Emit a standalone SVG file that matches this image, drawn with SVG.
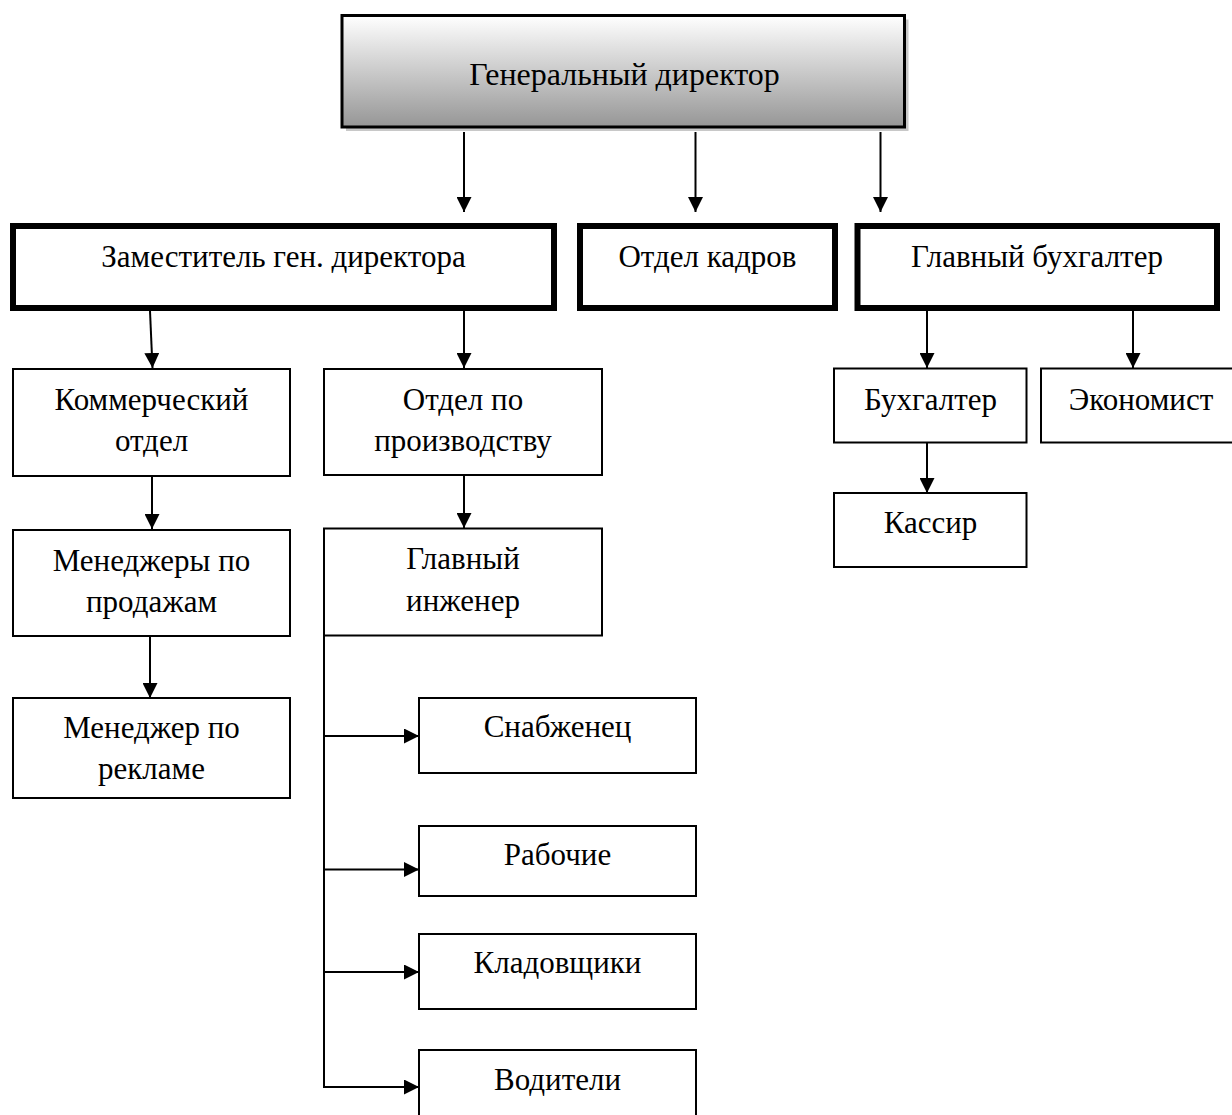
<svg xmlns="http://www.w3.org/2000/svg" width="1232" height="1115" viewBox="0 0 1232 1115">
<style>
text{font-family:"Liberation Serif","Times New Roman",serif;font-size:31px;fill:#000;text-anchor:middle}
.thin{fill:#fff;stroke:#000;stroke-width:2}
.thick{fill:#fff;stroke:#000;stroke-width:6}
.conn{fill:none;stroke:#000;stroke-width:2}
</style>
<defs>
<linearGradient id="g" x1="0" y1="0" x2="0" y2="1">
<stop offset="0" stop-color="#ffffff"/>
<stop offset="1" stop-color="#969696"/>
</linearGradient>
<marker id="ah" markerUnits="userSpaceOnUse" markerWidth="15" markerHeight="15" refX="15" refY="7.5" orient="auto">
<path d="M0,0 L15,7.5 L0,15 z" fill="#000"/>
</marker>
</defs>
<rect width="1232" height="1115" fill="#fff"/>
<g id="connectors" class="conn">
<line x1="464" y1="132" x2="464" y2="212" marker-end="url(#ah)"/>
<line x1="695.5" y1="132" x2="695.5" y2="212" marker-end="url(#ah)"/>
<line x1="880.5" y1="132" x2="880.5" y2="212" marker-end="url(#ah)"/>
<line x1="150" y1="311" x2="152.5" y2="368" marker-end="url(#ah)"/>
<line x1="464" y1="311" x2="464" y2="368" marker-end="url(#ah)"/>
<line x1="152" y1="477" x2="152" y2="529" marker-end="url(#ah)"/>
<line x1="464" y1="475" x2="464" y2="528" marker-end="url(#ah)"/>
<line x1="150" y1="637" x2="150" y2="698" marker-end="url(#ah)"/>
<line x1="927" y1="311" x2="927" y2="368" marker-end="url(#ah)"/>
<line x1="1133" y1="311" x2="1133" y2="368" marker-end="url(#ah)"/>
<line x1="927" y1="443" x2="927" y2="493" marker-end="url(#ah)"/>
<line x1="324" y1="618" x2="324" y2="1087"/>
<line x1="323" y1="736" x2="419" y2="736" marker-end="url(#ah)"/>
<line x1="323" y1="869.5" x2="419" y2="869.5" marker-end="url(#ah)"/>
<line x1="323" y1="972" x2="419" y2="972" marker-end="url(#ah)"/>
<line x1="323" y1="1087" x2="419" y2="1087" marker-end="url(#ah)"/>
</g>
<g id="n-gendir">
<rect x="346" y="19.5" width="562.5" height="111.5" fill="#c8c8c8"/>
<rect x="342" y="15.5" width="562.5" height="111.5" fill="url(#g)" stroke="#000" stroke-width="3"/>
<text x="624.5" y="85" style="font-size:32px">Генеральный директор</text>
</g>
<g id="n-zam">
<rect class="thick" x="13" y="226" width="541" height="82"/>
<text x="283.5" y="267">Заместитель ген. директора</text>
</g>
<g id="n-kadry">
<rect class="thick" x="580" y="226" width="255" height="82"/>
<text x="707.5" y="267">Отдел кадров</text>
</g>
<g id="n-glbuh">
<rect class="thick" x="857.5" y="226" width="359.5" height="82"/>
<text x="1037" y="267">Главный бухгалтер</text>
</g>
<g id="n-kommerch">
<rect class="thin" x="13" y="369" width="277" height="107"/>
<text x="151.5" y="410">Коммерческий</text>
<text x="151.5" y="451">отдел</text>
</g>
<g id="n-proizv">
<rect class="thin" x="324" y="369" width="278" height="106"/>
<text x="463" y="410">Отдел по</text>
<text x="463" y="451">производству</text>
</g>
<g id="n-menedzhery">
<rect class="thin" x="13" y="530" width="277" height="106"/>
<text x="151.5" y="571">Менеджеры по</text>
<text x="151.5" y="612">продажам</text>
</g>
<g id="n-glinzh">
<rect class="thin" x="324" y="528.5" width="278" height="107"/>
<text x="463" y="569">Главный</text>
<text x="463" y="611">инженер</text>
</g>
<g id="n-reklama">
<rect class="thin" x="13" y="698" width="277" height="100"/>
<text x="151.5" y="738">Менеджер по</text>
<text x="151.5" y="779">рекламе</text>
</g>
<g id="n-snab">
<rect class="thin" x="419" y="698" width="277" height="75"/>
<text x="557.5" y="737">Снабженец</text>
</g>
<g id="n-rabochie">
<rect class="thin" x="419" y="826" width="277" height="70"/>
<text x="557.5" y="865">Рабочие</text>
</g>
<g id="n-kladov">
<rect class="thin" x="419" y="934" width="277" height="75"/>
<text x="557.5" y="973">Кладовщики</text>
</g>
<g id="n-voditeli">
<rect class="thin" x="419" y="1050" width="277" height="80"/>
<text x="557.5" y="1090">Водители</text>
</g>
<g id="n-buh">
<rect class="thin" x="834" y="368.5" width="192.5" height="74"/>
<text x="930.5" y="410">Бухгалтер</text>
</g>
<g id="n-ekon">
<rect class="thin" x="1041" y="368.5" width="200" height="74"/>
<text x="1141" y="410">Экономист</text>
</g>
<g id="n-kassir">
<rect class="thin" x="834" y="493" width="192.5" height="74"/>
<text x="930.5" y="533">Кассир</text>
</g>
</svg>
